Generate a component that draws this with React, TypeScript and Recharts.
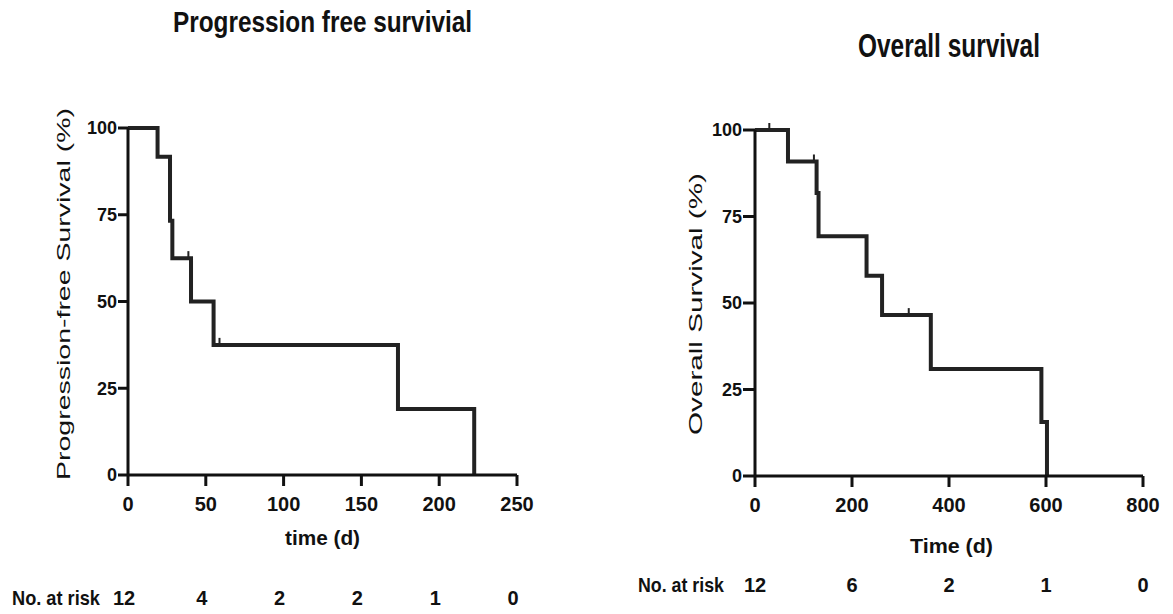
import React from "react";
import {
  ComposedChart,
  Line,
  Scatter,
  XAxis,
  YAxis,
} from "recharts";

// Progression free survival (days, %)
const pfsTime = [0, 19, 27, 28.5, 40.5, 55, 173.5, 222.5];
const pfsSurv = [100, 91.7, 73.3, 62.5, 50, 37.5, 19, 0];
const pfsCensorTime = [38.8, 58.8];
const pfsCensorSurv = [62.5, 37.5];
const pfsXTicks = [0, 50, 100, 150, 200, 250];
const pfsRisk = [12, 4, 2, 2, 1, 0];

// Overall survival (days, %)
const osTime = [0, 68, 127, 131, 230, 262, 362.5, 590.5, 602];
const osSurv = [100, 90.9, 81.8, 69.3, 57.9, 46.5, 30.9, 15.6, 0];
const osCensorTime = [29.5, 121.5, 317];
const osCensorSurv = [100, 90.9, 46.5];
const osXTicks = [0, 200, 400, 600, 800];
const osRisk = [12, 6, 2, 1, 0];

const yTicks = [0, 25, 50, 75, 100];

const FONT = "'Liberation Sans', Arial, sans-serif";
const INK = "#111";
const CURVE = "#222";

const toRows = (t: number[], s: number[]) => t.map((v, i) => ({ t: v, s: s[i] }));

const CensorTick = (props: any) => {
  const { cx, cy } = props;
  if (cx == null || cy == null) return null;
  return <line x1={cx} x2={cx} y1={cy} y2={cy - 7} stroke={CURVE} strokeWidth={2} />;
};

interface PanelProps {
  rows: { t: number; s: number }[];
  censor: { t: number; s: number }[];
  xTicks: number[];
  risk: number[];
  width: number;
  margin: { top: number; right: number; bottom: number; left: number };
  yTickSize: number;
  riskMargin: number;
  riskDx: number;
}

function KmPanel({ rows, censor, xTicks, risk, width, margin, yTickSize, riskMargin, riskDx }: PanelProps) {
  const xMax = xTicks[xTicks.length - 1];
  return (
    <ComposedChart width={width} height={614} data={rows} margin={margin}>
      <XAxis
        type="number"
        dataKey="t"
        domain={[0, xMax]}
        ticks={xTicks}
        interval={0}
        height={30}
        axisLine={{ stroke: INK, strokeWidth: 3 }}
        tickLine={{ stroke: INK, strokeWidth: 3 }}
        tickSize={11}
        tickMargin={11}
        tick={{ fontSize: 20, fontWeight: 700, fill: INK, fontFamily: FONT }}
      />
      <XAxis
        xAxisId="risk"
        type="number"
        dataKey="t"
        domain={[0, xMax]}
        ticks={xTicks}
        interval={0}
        height={100}
        axisLine={false}
        tickLine={false}
        tickSize={0}
        tickMargin={riskMargin}
        tickFormatter={(v: number) => String(risk[xTicks.indexOf(v)])}
        tick={{ fontSize: 20, fontWeight: 700, fill: INK, fontFamily: FONT, dx: riskDx }}
      />
      <YAxis
        type="number"
        domain={[0, 100]}
        ticks={yTicks}
        interval={0}
        width={60}
        axisLine={{ stroke: INK, strokeWidth: 3 }}
        tickLine={{ stroke: INK, strokeWidth: 3 }}
        tickSize={yTickSize}
        tickMargin={1}
        tick={{ fontSize: 18, fontWeight: 700, fill: INK, fontFamily: FONT }}
      />
      <Line
        type="stepAfter"
        dataKey="s"
        stroke={CURVE}
        strokeWidth={4}
        dot={false}
        activeDot={false}
        isAnimationActive={false}
      />
      <Scatter data={censor} dataKey="s" shape={CensorTick} isAnimationActive={false} />
    </ComposedChart>
  );
}

export default function App() {
  return (
    <div
      style={{
        position: "absolute",
        left: 0,
        top: 0,
        width: 1173,
        height: 614,
        background: "#fff",
        overflow: "hidden",
      }}
    >
      <div style={{ position: "absolute", left: 0, top: 0 }}>
        <KmPanel
          rows={toRows(pfsTime, pfsSurv)}
          censor={toRows(pfsCensorTime, pfsCensorSurv)}
          xTicks={pfsXTicks}
          risk={pfsRisk}
          width={560}
          margin={{ top: 128, right: 43, bottom: 9, left: 68 }}
          yTickSize={10}
          riskMargin={86}
          riskDx={-4}
        />
      </div>
      <div style={{ position: "absolute", left: 580, top: 0 }}>
        <KmPanel
          rows={toRows(osTime, osSurv)}
          censor={toRows(osCensorTime, osCensorSurv)}
          xTicks={osXTicks}
          risk={osRisk}
          width={593}
          margin={{ top: 130, right: 30, bottom: 8, left: 115 }}
          yTickSize={12}
          riskMargin={72}
          riskDx={0}
        />
      </div>
      <svg
        width={1173}
        height={614}
        style={{ position: "absolute", left: 0, top: 0, pointerEvents: "none" }}
        fontFamily={FONT}
        fill={INK}
      >
        <text x={173} y={32} fontSize={29} fontWeight={700} textLength={299} lengthAdjust="spacingAndGlyphs">
          Progression free survivial
        </text>
        <text x={858} y={57} fontSize={33} fontWeight={700} textLength={182} lengthAdjust="spacingAndGlyphs">
          Overall survival
        </text>
        <text x={285} y={545} fontSize={20} fontWeight={700} textLength={75} lengthAdjust="spacingAndGlyphs">
          time (d)
        </text>
        <text x={910} y={553} fontSize={20} fontWeight={700} textLength={83} lengthAdjust="spacingAndGlyphs">
          Time (d)
        </text>
        <text
          x={70}
          y={294}
          fontSize={19}
          textAnchor="middle"
          textLength={372}
          lengthAdjust="spacingAndGlyphs"
          transform="rotate(-90 70 294)"
        >
          Progression-free Survival (%)
        </text>
        <text
          x={702}
          y={304}
          fontSize={19}
          textAnchor="middle"
          textLength={262}
          lengthAdjust="spacingAndGlyphs"
          transform="rotate(-90 702 304)"
        >
          Overall Survival (%)
        </text>
        <text x={12} y={605} fontSize={21} fontWeight={700} textLength={88} lengthAdjust="spacingAndGlyphs">
          No. at risk
        </text>
        <text x={638} y={592} fontSize={21} fontWeight={700} textLength={86} lengthAdjust="spacingAndGlyphs">
          No. at risk
        </text>
      </svg>
    </div>
  );
}
